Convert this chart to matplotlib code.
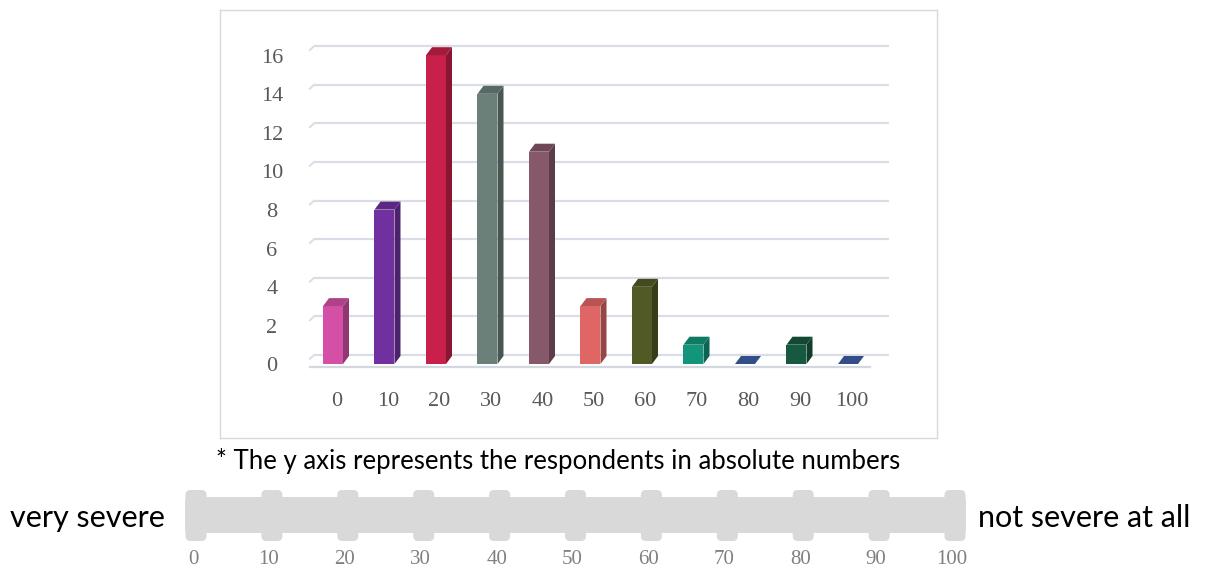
import matplotlib
matplotlib.use("Agg")
import matplotlib.pyplot as plt
from matplotlib.patches import Rectangle, Polygon, FancyBboxPatch
from matplotlib.colors import to_rgb

# ---- data -------------------------------------------------------------
categories = ["0", "10", "20", "30", "40", "50", "60", "70", "80", "90", "100"]
respondents = [3, 8, 16, 14, 11, 3, 4, 1, 0, 1, 0]
bar_colors = ["#D44FA6", "#7030A0", "#C8204A", "#6A8079", "#87586A", "#E06666",
              "#515A25", "#12957A", "#3D5FA6", "#175940", "#3D5FA6"]
y_ticks = [0, 2, 4, 6, 8, 10, 12, 14, 16]
scale_ticks = [0, 10, 20, 30, 40, 50, 60, 70, 80, 90, 100]
footnote = "* The y axis represents the respondents in absolute numbers"
left_label = "very severe"
right_label = "not severe at all"

W, H = 1208, 571
fig = plt.figure(figsize=(W / 100, H / 100), dpi=100)
fig.patch.set_facecolor("white")


def shade(color, f):
    r, g, b = to_rgb(color)
    return (r * f, g * f, b * f)


# ---- bar chart panel ---------------------------------------------------
px_cat, px_val = 51.5, 19.3          # pixels per category / per unit
x_origin, y_origin = 333, 364        # pixel position of the first bar base
box = (220, 10, 937, 438)            # panel frame in pixels (l, t, r, b)
ax = fig.add_axes([box[0] / W, 1 - box[3] / H, (box[2] - box[0]) / W,
                   (box[3] - box[1]) / H])
ax.set_xlim((box[0] - x_origin) / px_cat, (box[2] - x_origin) / px_cat)
ax.set_ylim((y_origin - box[3]) / px_val, (y_origin - box[1]) / px_val)
ax.set_xticks([])
ax.set_yticks([])
for s in ax.spines.values():
    s.set_color("#D9D9D9")
    s.set_linewidth(1.0)

bw = 20 / px_cat          # front face width
dx = 6 / px_cat           # depth offset to the right
dy = 8 / px_val           # depth offset upward
wall = 9 / px_val         # back wall offset for the gridlines
g_left, g_right = (314 - x_origin) / px_cat, (889 - x_origin) / px_cat

grid_c = "#DADDE5"
for t in y_ticks:
    gy = t + wall
    ax.plot([g_left, g_right], [gy, gy], color=grid_c, lw=1.6, zorder=1,
            solid_capstyle="butt")
    ax.plot([g_left - 0.08, g_left], [gy - 0.2, gy], color=grid_c, lw=1.4,
            zorder=1)
# floor front edge
ax.plot([(310 - x_origin) / px_cat, (870 - x_origin) / px_cat],
        [-3 / px_val, -3 / px_val], color="#D3D8E0", lw=1.6, zorder=1)

for i, (v, c) in enumerate(zip(respondents, bar_colors)):
    x0, x1 = i - bw / 2, i + bw / 2
    if v > 0:
        ax.add_patch(Rectangle((x0, 0), bw, v, facecolor=c, edgecolor="none",
                               zorder=3))
        ax.add_patch(Polygon([(x1, 0), (x1 + dx, dy), (x1 + dx, v + dy), (x1, v)],
                             closed=True, facecolor=shade(c, 0.68),
                             edgecolor="none", zorder=3))
    ax.add_patch(Polygon([(x0, v), (x1, v), (x1 + dx, v + dy), (x0 + dx, v + dy)],
                         closed=True, facecolor=shade(c, 0.82),
                         edgecolor="none", zorder=4))

num_font = dict(family=["Liberation Serif", "DejaVu Serif"], color="#595959",
                fontsize=16)
for t in y_ticks:
    ax.text((272 - x_origin) / px_cat, t - 0.15, str(t), ha="center",
            va="center", **num_font)
for i, lab in enumerate(categories):
    ax.text(i + 0.07, -37 / px_val, lab, ha="center", va="center", **num_font)

# ---- footnote ------------------------------------------------------------
fig.text(558 / W, 1 - 461 / H, footnote, ha="center", va="center",
         family=["Lato", "DejaVu Sans"], fontsize=18.5, color="#000000")

# ---- severity scale --------------------------------------------------------
px_step = 75.9                     # pixels per 10 points of the scale
sx0 = 196                          # pixel position of scale value 0
sax = fig.add_axes([0, 0, 1, 1])
sax.set_xlim(-sx0 / px_step * 10, (W - sx0) / px_step * 10)
sax.set_ylim(H, 0)
sax.axis("off")
asp = px_step / 10                 # pixels per scale unit (x) vs 1 px (y)
bar_c = "#D9D9D9"
lo, hi = (185 - sx0) / asp, (966 - sx0) / asp
sax.add_patch(FancyBboxPatch((lo, 497), hi - lo, 36,
                             boxstyle="round,pad=0,rounding_size=%f" % (4 / asp),
                             mutation_aspect=asp, facecolor=bar_c,
                             edgecolor="none"))
kw = 21 / asp
for t in scale_ticks:
    sax.add_patch(FancyBboxPatch((t - kw / 2, 490), kw, 51,
                                 boxstyle="round,pad=0,rounding_size=%f" % (5 / asp),
                                 mutation_aspect=asp, facecolor=bar_c,
                                 edgecolor="none"))
    sax.text(t - 0.4, 560, str(t), ha="center", va="center",
             family=["Liberation Serif", "DejaVu Serif"], fontsize=15,
             color="#808080")

side_font = dict(family=["Lato", "DejaVu Sans"], fontsize=22, color="#000000")
fig.text(10 / W, 1 - 518 / H, left_label, ha="left", va="center", **side_font)
fig.text(978 / W, 1 - 518 / H, right_label, ha="left", va="center", **side_font)

fig.savefig("out.png", dpi=100, facecolor="white")
